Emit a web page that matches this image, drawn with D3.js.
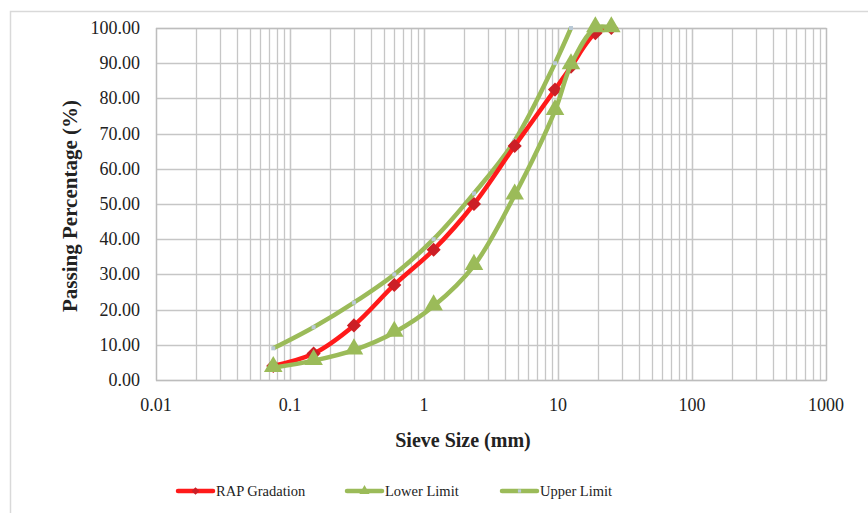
<!DOCTYPE html>
<html>
<head>
<meta charset="utf-8">
<script src="https://cdn.jsdelivr.net/npm/d3@7"></script>
<style>
  body { margin: 0; background: #fff; }
  text { font-family: "Liberation Serif", "Times New Roman", serif; fill: #222; }
</style>
</head>
<body>
<div id="chart"></div>
<script>
// sieve sizes (mm)
var sieveSizes = [0.075, 0.15, 0.3, 0.6, 1.18, 2.36, 4.75, 9.5, 12.5, 19, 25];
var rapGradation = [4, 7.5, 15.5, 27, 37, 50, 66.5, 82.5, 89, 98.5, 100];
var lowerLimit = [3.5, 5.5, 8.5, 13.5, 21, 32.5, 52.5, 76.5, 89.5, 100, 100];
var upperSizes = [0.075, 0.15, 0.3, 0.6, 1.18, 2.36, 4.75, 9.5, 12.5];
var upperLimit = [9, 15, 22, 30, 40, 53, 68, 90, 100];
var yTicks = [0, 10, 20, 30, 40, 50, 60, 70, 80, 90, 100];
var xTicks = [0.01, 0.1, 1, 10, 100, 1000];

var width = 868, height = 513;
var plotLeft = 156, plotRight = 826, plotTop = 28, plotBottom = 380;

var svg = d3.select("#chart").append("svg")
    .attr("width", width)
    .attr("height", height);

// outer chart frame (partially cropped)
svg.append("path")
    .attr("d", "M10.5," + height + "V11.5H" + width)
    .attr("fill", "none")
    .attr("stroke", "#d9d9d9")
    .attr("stroke-width", 1.5);

var x = d3.scaleLog().domain([0.01, 1000]).range([plotLeft, plotRight]);
var y = d3.scaleLinear().domain([0, 100]).range([plotBottom, plotTop]);

// vertical grid, major + minor
var minor = [];
for (var e = -2; e < 3; e++) {
    for (var m = 1; m <= 10; m++) minor.push(m * Math.pow(10, e));
}
svg.append("g").selectAll("line")
    .data(minor)
    .enter().append("line")
    .attr("x1", function (d) { return Math.round(x(d)) + 0.5; })
    .attr("x2", function (d) { return Math.round(x(d)) + 0.5; })
    .attr("y1", plotTop)
    .attr("y2", plotBottom)
    .attr("stroke", "#c6c6c6")
    .attr("stroke-width", 1.3);

svg.append("g").selectAll("line")
    .data(yTicks)
    .enter().append("line")
    .attr("x1", plotLeft)
    .attr("x2", plotRight)
    .attr("y1", function (d) { return Math.round(y(d)) + 0.5; })
    .attr("y2", function (d) { return Math.round(y(d)) + 0.5; })
    .attr("stroke", "#c6c6c6")
    .attr("stroke-width", 1.3);

svg.append("rect")
    .attr("x", plotLeft + 0.5).attr("y", plotTop + 0.5)
    .attr("width", plotRight - plotLeft).attr("height", plotBottom - plotTop)
    .attr("fill", "none")
    .attr("stroke", "#bdbdbd")
    .attr("stroke-width", 1.3);

// tick labels
svg.append("g").selectAll("text")
    .data(yTicks)
    .enter().append("text")
    .attr("x", 140)
    .attr("y", function (d) { return y(d) + 6; })
    .attr("text-anchor", "end")
    .style("font-size", "18px")
    .text(function (d) { return d.toFixed(2); });

svg.append("g").selectAll("text")
    .data(xTicks)
    .enter().append("text")
    .attr("x", function (d) { return x(d); })
    .attr("y", 411)
    .attr("text-anchor", "middle")
    .style("font-size", "18px")
    .text(function (d) { return d; });

// axis titles
svg.append("text")
    .attr("transform", "translate(77,206) rotate(-90)")
    .attr("text-anchor", "middle")
    .style("font-size", "21px")
    .style("font-weight", "bold")
    .text("Passing Percentage (%)");

svg.append("text")
    .attr("x", 463)
    .attr("y", 447)
    .attr("text-anchor", "middle")
    .style("font-size", "20px")
    .style("font-weight", "bold")
    .text("Sieve Size (mm)");

var green = "#9bbb59", red = "#ff1a1a", darkRed = "#cc1f26";

function series(xs, ys) {
    return xs.map(function (d, i) { return [d, ys[i]]; });
}

var line = d3.line()
    .x(function (d) { return x(d[0]); })
    .y(function (d) { return y(d[1]); })
    .curve(d3.curveCatmullRom.alpha(0.5));

var upperData = series(upperSizes, upperLimit);
var lowerData = series(sieveSizes, lowerLimit);
var rapData = series(sieveSizes, rapGradation);

var tri = d3.symbol().type(d3.symbolTriangle).size(150);
var sq = d3.symbol().type(d3.symbolSquare).size(100);

// upper limit
svg.append("path")
    .attr("d", line(upperData))
    .attr("fill", "none")
    .attr("stroke", green)
    .attr("stroke-width", 4.5);
svg.append("g").selectAll("rect")
    .data(upperData)
    .enter().append("rect")
    .attr("x", function (d) { return x(d[0]) - 2; })
    .attr("y", function (d) { return y(d[1]) - 2; })
    .attr("width", 4)
    .attr("height", 4)
    .attr("fill", "#b9c9d6");

// RAP gradation
svg.append("path")
    .attr("d", line(rapData))
    .attr("fill", "none")
    .attr("stroke", red)
    .attr("stroke-width", 4.5);
svg.append("g").selectAll("path")
    .data(rapData)
    .enter().append("path")
    .attr("d", sq)
    .attr("transform", function (d) { return "translate(" + x(d[0]) + "," + y(d[1]) + ") rotate(45)"; })
    .attr("fill", darkRed);

// lower limit
svg.append("path")
    .attr("d", line(lowerData))
    .attr("fill", "none")
    .attr("stroke", green)
    .attr("stroke-width", 4.5);
svg.append("g").selectAll("path")
    .data(lowerData)
    .enter().append("path")
    .attr("d", tri)
    .attr("transform", function (d) { return "translate(" + x(d[0]) + "," + (y(d[1]) - 1) + ")"; })
    .attr("fill", green);

// legend
var legend = [
    {name: "RAP Gradation", color: red, x: 178, mark: "diamond"},
    {name: "Lower Limit", color: green, x: 347, mark: "triangle"},
    {name: "Upper Limit", color: green, x: 502, mark: "dot"}
];
var lg = svg.append("g").selectAll("g")
    .data(legend)
    .enter().append("g")
    .attr("transform", function (d) { return "translate(" + d.x + ",491)"; });
lg.append("line")
    .attr("x1", 0).attr("x2", 35)
    .attr("stroke", function (d) { return d.color; })
    .attr("stroke-width", 4.5)
    .attr("stroke-linecap", "round");
lg.append("path")
    .attr("d", function (d) {
        if (d.mark === "diamond") return d3.symbol().type(d3.symbolSquare).size(30)();
        if (d.mark === "triangle") return d3.symbol().type(d3.symbolTriangle).size(45)();
        return d3.symbol().type(d3.symbolSquare).size(10)();
    })
    .attr("transform", function (d) { return "translate(17.5,0)" + (d.mark === "diamond" ? " rotate(45)" : ""); })
    .attr("fill", function (d) { return d.mark === "diamond" ? darkRed : d.mark === "dot" ? "#b9c9d6" : green; });
lg.append("text")
    .attr("x", 38)
    .attr("y", 5)
    .style("font-family", "'Liberation Serif', serif")
    .style("font-size", "14.5px")
    .text(function (d) { return d.name; });
</script>
</body>
</html>
